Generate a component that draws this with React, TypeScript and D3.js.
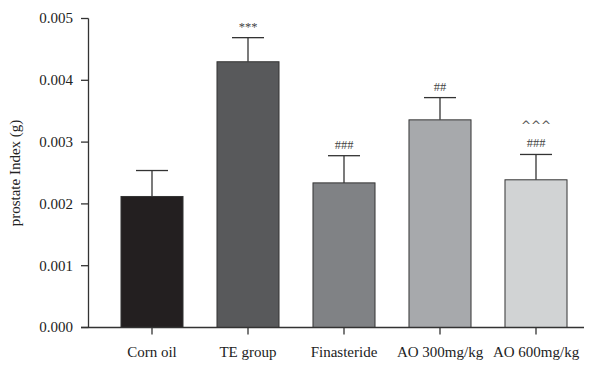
import React from "react";
import * as d3 from "d3";

const categories = ["Corn oil", "TE group", "Finasteride", "AO 300mg/kg", "AO 600mg/kg"];
const means = [0.00212, 0.0043, 0.00234, 0.00336, 0.00239];
const errors = [0.00042, 0.00039, 0.00044, 0.00036, 0.00041];
const marks = [[], ["***"], ["###"], ["##"], ["###", "^^^"]];
const colors = ["#231f20", "#58595b", "#808285", "#a7a9ac", "#d1d3d4"];
const yTicks = [0, 0.001, 0.002, 0.003, 0.004, 0.005];

const W = 598;
const H = 366;
const axisX = 88.5;
const y0 = 327.5;
const yTop = 18.5;
const font = "'Liberation Serif', 'Times New Roman', serif";

export default function App() {
  const y = d3.scaleLinear().domain([0, 0.005]).range([y0, yTop]);
  const x = d3
    .scaleBand<string>()
    .domain(categories)
    .range([104, 584])
    .paddingInner(0.354)
    .paddingOuter(0.177);
  const bw = x.bandwidth();
  const fmt = d3.format(".3f");
  return (
    <svg width={W} height={H} style={{ position: "absolute", left: 0, top: 0 }} fontFamily={font}>
      <rect width={W} height={H} fill="#fff" />
      {categories.map((c, i) => {
        const cx = x(c)! + bw / 2;
        const top = y(means[i]);
        const capY = y(means[i] + errors[i]);
        return (
          <g key={c}>
            <line x1={cx} x2={cx} y1={top} y2={capY} stroke="#333" strokeWidth={1.3} />
            <line x1={cx - 16} x2={cx + 16} y1={capY} y2={capY} stroke="#333" strokeWidth={1.3} />
            <rect x={x(c)!} y={top} width={bw} height={y0 - top} fill={colors[i]} stroke="#333" strokeWidth={1} />
            {marks[i].map((m, k) =>
              m.startsWith("^") ? (
                <text
                  key={k}
                  x={cx}
                  y={capY - 24}
                  textAnchor="middle"
                  fontSize={12}
                  fontFamily="'DejaVu Sans', sans-serif"
                  fill="#555"
                >
                  {m}
                </text>
              ) : (
                <text
                  key={k}
                  x={cx}
                  y={capY - 7}
                  textAnchor="middle"
                  fontSize={12.5}
                  fill="#444"
                >
                  {m}
                </text>
              )
            )}
            <line x1={cx} x2={cx} y1={y0} y2={y0 + 7} stroke="#333" strokeWidth={1.3} />
            <text x={cx} y={y0 + 29} textAnchor="middle" fontSize={15} fill="#222">
              {c}
            </text>
          </g>
        );
      })}
      <line x1={axisX} x2={axisX} y1={yTop} y2={y0} stroke="#333" strokeWidth={1.3} />
      <line x1={81} x2={584} y1={y0} y2={y0} stroke="#333" strokeWidth={1.3} />
      {yTicks.map((t) => (
        <g key={t}>
          <line x1={81} x2={axisX} y1={y(t)} y2={y(t)} stroke="#333" strokeWidth={1.3} />
          <text x={73} y={y(t)} dy="0.32em" textAnchor="end" fontSize={15} fill="#222">
            {fmt(t)}
          </text>
        </g>
      ))}
      <text
        transform={`translate(20,${(y0 + yTop) / 2}) rotate(-90)`}
        textAnchor="middle"
        fontSize={15}
        fill="#222"
      >
        prostate Index (g)
      </text>
    </svg>
  );
}
